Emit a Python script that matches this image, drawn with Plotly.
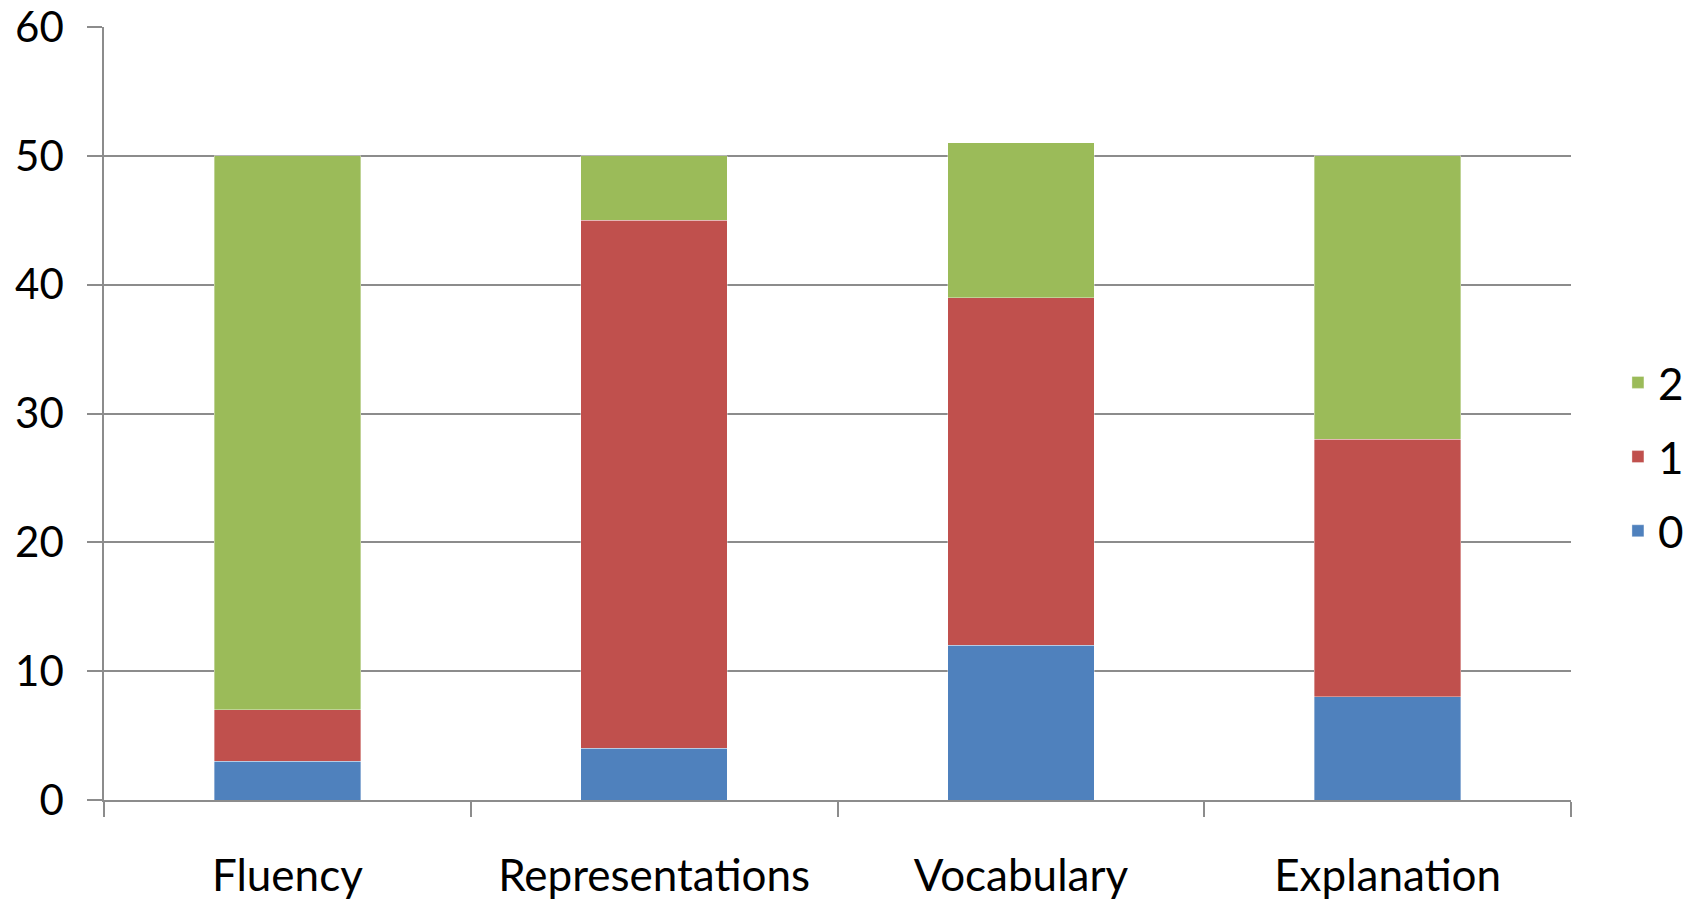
import plotly.graph_objects as go

categories = ["Fluency", "Representations", "Vocabulary", "Explanation"]
score0 = [3, 4, 12, 8]
score1 = [4, 41, 27, 20]
score2 = [43, 5, 12, 22]
series_names = ["0", "1", "2"]
legend_ranks = [3, 2, 1]
colors = ["#4F81BD", "#C0504D", "#9BBB59"]
y_ticks = [0, 10, 20, 30, 40, 50, 60]

FONT = "Lato, Open Sans, sans-serif"
GRID = "#8C8C8C"

fig = go.Figure()
for name, vals, col, rank in zip(series_names, [score0, score1, score2], colors, legend_ranks):
    fig.add_trace(go.Bar(
        x=categories, y=vals, name=name, legendgroup=name, legendrank=rank,
        marker=dict(color=col, line=dict(width=0.6, color="rgba(255,255,255,0.6)")),
    ))

fig.update_layout(
    barmode="stack",
    bargap=0.6,
    width=1704, height=901,
    margin=dict(l=104, r=133, t=27, b=101),
    paper_bgcolor="white", plot_bgcolor="white",
    font=dict(family=FONT, size=44, color="black"),
    showlegend=True,
    legend=dict(
        traceorder="grouped",
        x=1.032, xanchor="left", y=0.444, yanchor="middle",
        font=dict(size=44, family=FONT),
        itemwidth=30,
        tracegroupgap=14,
        bgcolor="rgba(0,0,0,0)",
    ),
    xaxis=dict(
        automargin=False,
        showgrid=False, showline=True, linecolor=GRID, linewidth=1.5,
        ticks="outside", ticklen=15, tickcolor=GRID, tickwidth=1.5,
        tickson="boundaries",
        tickfont=dict(size=44, family=FONT),
        ticklabelstandoff=36,
        ticklabeloverflow="allow",
    ),
    yaxis=dict(
        automargin=False,
        range=[0, 60], tickvals=y_ticks,
        showgrid=True, gridcolor=GRID, gridwidth=1.5,
        showline=True, linecolor=GRID, linewidth=1.5,
        ticks="outside", ticklen=15, tickcolor=GRID, tickwidth=1.5,
        tickfont=dict(size=42, family=FONT),
        ticklabelstandoff=15,
        ticklabeloverflow="allow",
        zeroline=False,
    ),
)

fig.write_html("out.html")
